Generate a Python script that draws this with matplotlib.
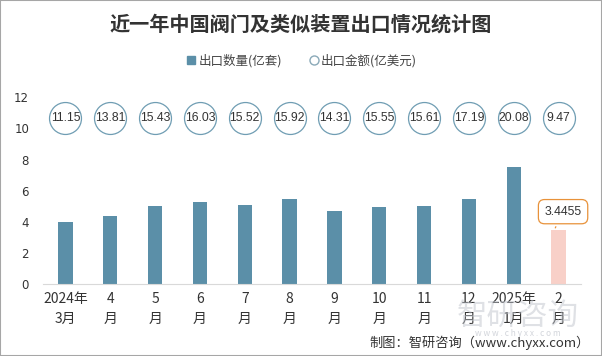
import matplotlib
matplotlib.use("Agg")
import matplotlib.pyplot as plt
import numpy as np
from matplotlib.lines import Line2D
from matplotlib.patches import Rectangle

plt.rcParams['font.family'] = ['Noto Sans CJK SC', 'DejaVu Sans']

BAR_COLOR = '#5b8fa8'
LAST_COLOR = '#f8d0c8'
TEXT_COLOR = '#333333'

months = ['2024年\n3月', '4\n月', '5\n月', '6\n月', '7\n月', '8\n月', '9\n月',
          '10\n月', '11\n月', '12\n月', '2025年\n1月', '2\n月']
quantity = [4.0, 4.37, 5.02, 5.27, 5.08, 5.47, 4.69, 4.95, 5.02, 5.47, 7.52, 3.4455]
amount = [11.15, 13.81, 15.43, 16.03, 15.52, 15.92, 14.31, 15.55, 15.61, 17.19, 20.08, 9.47]
y_ticks = [0, 2, 4, 6, 8, 10, 12]

fig = plt.figure(figsize=(6.02, 3.56), dpi=100)
ax = fig.add_axes([43 / 602, 1 - 284 / 356, 538 / 602, (284 - 97.3) / 356])

x = np.arange(len(months))
colors = [BAR_COLOR] * (len(x) - 1) + [LAST_COLOR]
ax.bar(x, quantity, width=0.32, color=colors, zorder=2)

# amount shown as circles in a row near the top
circle_y = 10.7
ax.scatter(x, [circle_y] * len(x), s=23 ** 2, facecolor='white',
           edgecolor='#6f9db3', linewidth=0.9, zorder=3, clip_on=False)
for xi, val in zip(x, amount):
    ax.text(xi, circle_y, '{:.2f}'.format(val), ha='center', va='center',
            fontsize=8.8, color=TEXT_COLOR, family='Liberation Sans', zorder=4)

# callout for the latest month
ax.annotate('{}'.format(quantity[-1]), xy=(x[-1] - 0.1, quantity[-1]),
            xytext=(x[-1] + 0.1, 4.65), ha='center', va='center',
            fontsize=8.8, color=TEXT_COLOR, family='Liberation Sans',
            bbox=dict(boxstyle='round,pad=0.5', fc='white', ec='#e8923a', lw=0.9),
            arrowprops=dict(arrowstyle='-', color='#e8923a', lw=0.9), zorder=5)

ax.set_xlim(-0.5, len(x) - 0.5)
ax.set_ylim(0, 12)
ax.set_yticks(y_ticks)
ax.set_xticks(x)
ax.set_xticklabels(months, fontsize=10, color=TEXT_COLOR, linespacing=1.55)
ax.tick_params(axis='y', length=0, labelsize=8.5, labelcolor=TEXT_COLOR, pad=10)
ax.tick_params(axis='x', length=0, pad=6)
for side in ['top', 'right', 'left']:
    ax.spines[side].set_visible(False)
ax.spines['bottom'].set_color('#d9d9d9')
for lbl in ax.get_yticklabels():
    lbl.set_family('DejaVu Sans')

fig.text(0.5, 1 - 24 / 356, '近一年中国阀门及类似装置出口情况统计图', ha='center', va='center',
         fontsize=14.5, fontweight='bold', color=TEXT_COLOR)

handles = [
    Line2D([], [], marker='s', linestyle='none', markersize=6, color=BAR_COLOR),
    Line2D([], [], marker='o', linestyle='none', markersize=6.5, markerfacecolor='white',
           markeredgecolor='#8aa9b8'),
]
fig.legend(handles, ['出口数量(亿套)', '出口金额(亿美元)'], loc='center',
           bbox_to_anchor=(0.5, 1 - 61 / 356), ncol=2, frameon=False, fontsize=9,
           handletextpad=0.1, columnspacing=2.0, handlelength=1.0,
           labelcolor='#444444')

# watermark
fig.text(0.86, 1 - 316 / 356, '智研咨询', ha='center', va='center', fontsize=22,
         color='#c0c4cc', alpha=0.5, zorder=0)
fig.text(0.86, 1 - 333 / 356, 'w w w . c h y x x . c o m', ha='center', va='center',
         fontsize=6, color='#c0c4cc', alpha=0.7, zorder=0)

fig.text(590 / 602, 1 - 343 / 356, '制图：智研咨询（www.chyxx.com）', ha='right',
         va='center', fontsize=9.5, color=TEXT_COLOR)

fig.patches.append(Rectangle((0, 0), 1, 1, transform=fig.transFigure, fill=False,
                             edgecolor='#a6a6a6', linewidth=1.5))

fig.savefig('out.png', dpi=100)
